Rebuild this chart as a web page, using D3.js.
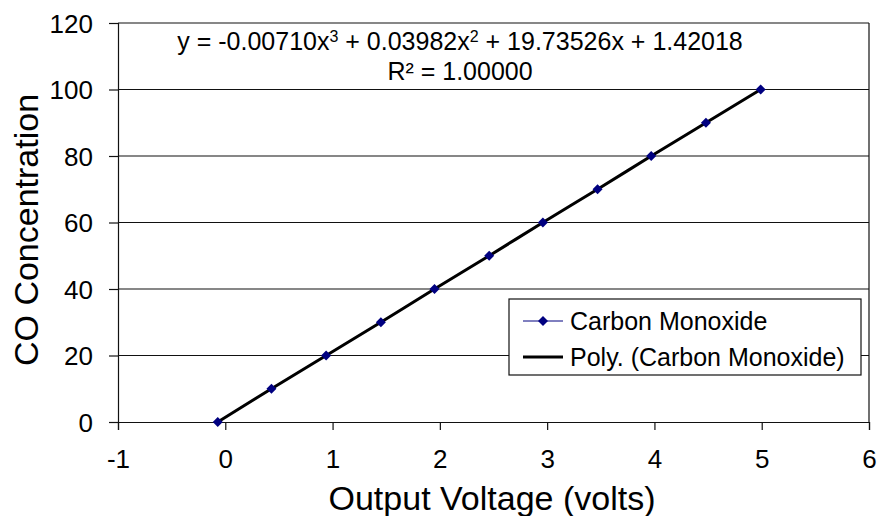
<!DOCTYPE html>
<html>
<head>
<meta charset="utf-8">
<script src="https://cdn.jsdelivr.net/npm/d3@7.9.0/dist/d3.min.js"></script>
<style>
  body { margin: 0; background: #fff; }
  text { font-family: Arial, "Liberation Sans", sans-serif; fill: #000; }
</style>
</head>
<body>
<svg id="chart" width="881" height="516"></svg>
<script>
// data
const voltage = [-0.07, 0.43, 0.94, 1.45, 1.95, 2.46, 2.96, 3.47, 3.97, 4.48, 4.99];
const concentration = [0, 10, 20, 30, 40, 50, 60, 70, 80, 90, 100];
const xTicks = [-1, 0, 1, 2, 3, 4, 5, 6];
const yTicks = [0, 20, 40, 60, 80, 100, 120];
const seriesName = 'Carbon Monoxide';
const trendName = 'Poly. (Carbon Monoxide)';

const points = voltage.map((v, i) => ({ x: v, y: concentration[i] }));

const svg = d3.select('#chart');
const plotLeft = 118, plotRight = 869, plotTop = 23, plotBottom = 422;

let x = d3.scaleLinear().domain([-1, 6]).range([plotLeft, plotRight]);
let y = d3.scaleLinear().domain([0, 120]).range([plotBottom, plotTop]);

// gridlines
svg.append('g')
  .selectAll('line')
  .data(yTicks.filter(d => d > 0))
  .join('line')
  .attr('x1', plotLeft).attr('x2', plotRight)
  .attr('y1', d => y(d)).attr('y2', d => y(d))
  .attr('stroke', '#111').attr('stroke-width', 1.2);

// right border of plot area
svg.append('line')
  .attr('x1', plotRight).attr('x2', plotRight).attr('y1', plotTop).attr('y2', plotBottom)
  .attr('stroke', '#111').attr('stroke-width', 1.2);

// axes
let yAxis = d3.axisLeft(y).tickValues(yTicks).tickSize(9).tickPadding(16);
let gy = svg.append('g').attr('transform', `translate(${plotLeft},0)`).call(yAxis);
gy.select('.domain').attr('stroke', '#111').attr('stroke-width', 1.2);
gy.selectAll('.tick line').attr('stroke', '#111').attr('stroke-width', 1.2);
gy.selectAll('text').style('font-size', '26px').attr('dy', '0.35em');

let xAxis = d3.axisBottom(x).tickValues(xTicks).tickSize(8).tickPadding(20)
  .tickFormat(d => String(d));
let gx = svg.append('g').attr('transform', `translate(0,${plotBottom})`).call(xAxis);
gx.select('.domain').attr('stroke', '#111').attr('stroke-width', 1.2);
gx.selectAll('.tick line').attr('stroke', '#111').attr('stroke-width', 1.2);
gx.selectAll('text').style('font-size', '26px');

// axis titles
svg.append('text')
  .attr('x', 492).attr('y', 510)
  .attr('text-anchor', 'middle')
  .style('font-size', '34px')
  .text('Output Voltage (volts)');

svg.append('text')
  .attr('transform', 'translate(38,230) rotate(-90)')
  .attr('text-anchor', 'middle')
  .style('font-size', '34px')
  .text('CO Concentration');

// series line (hidden under trendline) and trendline
let line = d3.line().x(d => x(d.x)).y(d => y(d.y));
svg.append('path')
  .attr('d', line(points))
  .attr('fill', 'none').attr('stroke', '#000080').attr('stroke-width', 1);

let trend = d3.line().x(d => x(d.x)).y(d => y(d.y)).curve(d3.curveNatural);
svg.append('path')
  .attr('d', trend(points))
  .attr('fill', 'none').attr('stroke', '#000').attr('stroke-width', 3);

// markers
let diamond = d3.symbol().type(d3.symbolSquare).size(50);
svg.append('g')
  .selectAll('path')
  .data(points)
  .join('path')
  .attr('d', diamond)
  .attr('transform', d => `translate(${x(d.x)},${y(d.y)}) rotate(45)`)
  .attr('fill', '#000080');

// equation
let eq = svg.append('text')
  .attr('x', 460).attr('y', 50)
  .attr('text-anchor', 'middle')
  .style('font-size', '25px');
eq.append('tspan').text('y = -0.00710x');
eq.append('tspan').attr('baseline-shift', 'super').style('font-size', '16px').text('3');
eq.append('tspan').text(' + 0.03982x');
eq.append('tspan').attr('baseline-shift', 'super').style('font-size', '16px').text('2');
eq.append('tspan').text(' + 19.73526x + 1.42018');

svg.append('text')
  .attr('x', 460).attr('y', 80)
  .attr('text-anchor', 'middle')
  .style('font-size', '25px')
  .text('R² = 1.00000');

// legend
let legend = svg.append('g');
legend.append('rect')
  .attr('x', 509).attr('y', 299).attr('width', 352).attr('height', 76)
  .attr('fill', '#fff').attr('stroke', '#111').attr('stroke-width', 1.2);

legend.append('line')
  .attr('x1', 523).attr('x2', 563).attr('y1', 321).attr('y2', 321)
  .attr('stroke', '#000080').attr('stroke-width', 1);
legend.append('path')
  .attr('d', diamond)
  .attr('transform', 'translate(543,321) rotate(45)')
  .attr('fill', '#000080');
legend.append('text')
  .attr('x', 570).attr('y', 321).attr('dy', '0.35em')
  .style('font-size', '25px')
  .text(seriesName);

legend.append('line')
  .attr('x1', 523).attr('x2', 563).attr('y1', 357).attr('y2', 357)
  .attr('stroke', '#000').attr('stroke-width', 3);
legend.append('text')
  .attr('x', 570).attr('y', 357).attr('dy', '0.35em')
  .style('font-size', '25px')
  .text(trendName);
</script>
</body>
</html>
